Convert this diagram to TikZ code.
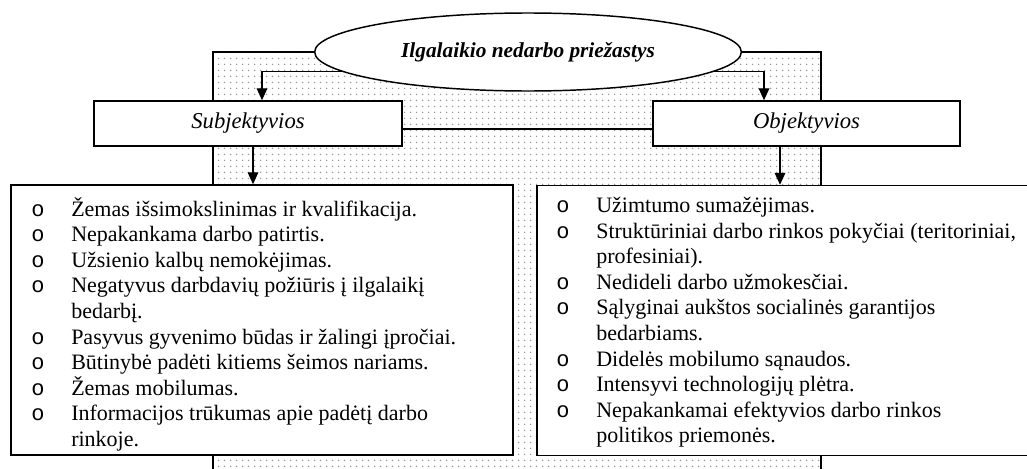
\documentclass[tikz,border=0pt]{standalone}
\usepackage{fontspec}
\setmainfont{Liberation Serif}
\newfontfamily\bulletfont{Liberation Mono}
\usetikzlibrary{arrows.meta,shapes.geometric,patterns.meta}

\newcommand{\bul}{\makebox[30pt][l]{\bulletfont o}}
\newcommand{\nobul}{\makebox[30pt][l]{}}

\tikzdeclarepattern{
  name=specks,
  type=uncolored,
  bounding box={(0pt,0pt) and (4.5pt,4.5pt)},
  tile size={(4.5pt,4.5pt)},
  code={\fill (2.25pt,2.25pt) circle (0.7pt);}
}

\tikzset{
  headbox/.style={draw, line width=1.1pt, fill=white, inner sep=0pt,
    minimum height=33.75pt, font=\fontsize{17}{20}\selectfont\itshape},
  listbox/.style={draw, line width=1.1pt, fill=white, inner sep=0pt,
    minimum height=202.5pt},
  listtext/.style={anchor=north west, inner sep=0pt, align=left,
    font=\fontsize{16.5}{19.2}\selectfont},
  link/.style={line width=0.9pt}
}

\begin{document}
\begin{tikzpicture}[x=0.75pt, y=-0.75pt, >={Triangle[length=9pt,width=8pt]}]
    \useasboundingbox (0,0) rectangle (1027,468);
    \clip (0,0) rectangle (1027,468);

    % dotted backdrop
    \fill[pattern=specks, pattern color=gray!80] (213,52) rectangle (821,480);
    \draw[line width=1.1pt] (213,480) -- (213,52) -- (821,52) -- (821,480);

    \node[ellipse, draw, line width=1.1pt, fill=white, inner sep=0pt,
      minimum width=320pt, minimum height=58.5pt,
      font=\fontsize{16}{20}\selectfont\bfseries\itshape] (title) at (528,52) {Ilgalaikio nedarbo priežastys};

    \node[headbox, minimum width=231pt] (subj) at (248,123.5) {Subjektyvios};
    \node[headbox, minimum width=230.25pt] (obj) at (806.5,123.5) {Objektyvios};

    \node[listbox, minimum width=376.5pt] (subjlist) at (262,320) {};
    \node[listbox, minimum width=375pt] (objlist) at (787,320.5) {};

    \node[listtext] (subjtext) at (31,197) {%
      \bul Žemas išsimokslinimas ir kvalifikacija.\\
      \bul Nepakankama darbo patirtis.\\
      \bul Užsienio kalbų nemokėjimas.\\
      \bul Negatyvus darbdavių požiūris į ilgalaikį\\
      \nobul bedarbį.\\
      \bul Pasyvus gyvenimo būdas ir žalingi įpročiai.\\
      \bul Būtinybė padėti kitiems šeimos nariams.\\
      \bul Žemas mobilumas.\\
      \bul Informacijos trūkumas apie padėtį darbo\\
      \nobul rinkoje.};
    \node[listtext] (objtext) at (556,197) {%
      \bul Užimtumo sumažėjimas.\\
      \bul Struktūriniai darbo rinkos pokyčiai (teritoriniai,\\
      \nobul profesiniai).\\
      \bul Nedideli darbo užmokesčiai.\\
      \bul Sąlyginai aukštos socialinės garantijos\\
      \nobul bedarbiams.\\
      \bul Didelės mobilumo sąnaudos.\\
      \bul Intensyvi technologijų plėtra.\\
      \bul Nepakankamai efektyvios darbo rinkos\\
      \nobul politikos priemonės.};

    % connectors
    \draw[link,->] (title.186) -| ([shift={(14,0)}]subj.north);
    \draw[link,->] (title.354) -| ([shift={(-42.5,0)}]obj.north);
    \draw[link] ([shift={(0,5.5)}]subj.east) -- ([shift={(0,5.5)}]obj.west);
    \draw[link,->] ([shift={(5,0)}]subj.south) -- ([shift={(5,0)}]subj.south |- subjlist.north);
    \draw[link,->] ([shift={(-26.5,0)}]obj.south) -- ([shift={(-26.5,0)}]obj.south |- objlist.north);
\end{tikzpicture}
\end{document}
